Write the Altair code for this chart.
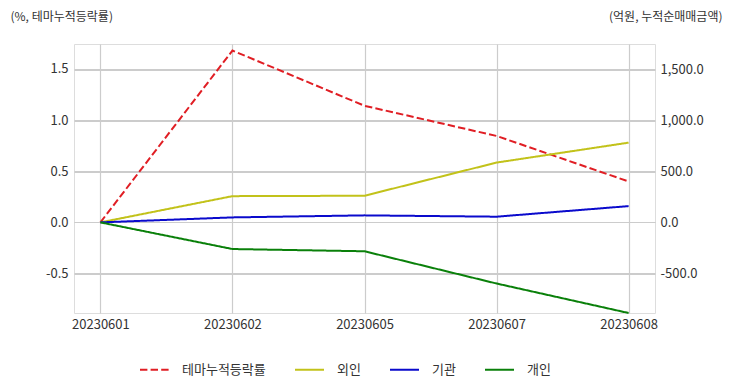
import altair as alt
import pandas as pd

dates = ["20230601", "20230602", "20230605", "20230607", "20230608"]
theme = [0.0, 1.68, 1.14, 0.845, 0.40]          # 테마누적등락률 (%)
foreign = [0.0, 258.0, 262.0, 588.0, 784.0]     # 외인 (억원)
inst = [0.0, 49.0, 69.0, 56.0, 160.0]           # 기관 (억원)
indiv = [0.0, -262.0, -284.0, -601.0, -891.0]   # 개인 (억원)

series_names = ["테마누적등락률", "외인", "기관", "개인"]
colors = ["#e01e24", "#c2c21a", "#0a0acc", "#0a800a"]
dashes = [[7.4, 3.2], [1, 0], [1, 0], [1, 0]]

left_ticks = [-0.5, 0.0, 0.5, 1.0, 1.5]
right_ticks = [-500, 0, 500, 1000, 1500]

rows = []
for d, v in zip(dates, theme):
    rows.append({"date": d, "series": "테마누적등락률", "value": v})
for name, vals in [("외인", foreign), ("기관", inst), ("개인", indiv)]:
    for d, v in zip(dates, vals):
        rows.append({"date": d, "series": name, "value": v})
df = pd.DataFrame(rows)

FONT = "Noto Sans CJK KR"
TXT = "#333333"
GRID = "#cccccc"
MINUS_FIX = "replace(datum.label, '\u2212', '-')"

x_enc = alt.X(
    "date:N",
    sort=dates,
    scale=alt.Scale(type="point", padding=0.2),
    axis=alt.Axis(
        title=None, labelAngle=0, grid=True, gridColor=GRID, gridWidth=1.2,
        domain=False, ticks=False, labelPadding=5, labelFontSize=13,
        labelColor=TXT, labelFont=FONT,
    ),
)

legend_opts = dict(
    title=None, orient="none", direction="horizontal", columns=4,
    legendX=65, legendY=310, symbolType="stroke", symbolSize=841,
    symbolStrokeWidth=2, labelFontSize=13, labelFont=FONT, labelColor=TXT,
    columnPadding=25, labelOffset=12, padding=0,
)

color_enc = alt.Color(
    "series:N",
    scale=alt.Scale(domain=series_names, range=colors),
    legend=alt.Legend(**legend_opts),
)
dash_enc = alt.StrokeDash(
    "series:N",
    scale=alt.Scale(domain=series_names, range=dashes),
    legend=alt.Legend(**legend_opts),
)

base = alt.Chart(df)

left = base.transform_filter(alt.datum.series == "테마누적등락률").mark_line(strokeWidth=2).encode(
    x=x_enc,
    y=alt.Y(
        "value:Q",
        scale=alt.Scale(domain=[-0.886, 1.744], nice=False, zero=False),
        axis=alt.Axis(
            orient="left", values=left_ticks, format=".1f", labelExpr=MINUS_FIX,
            grid=True, gridColor=GRID, gridWidth=1.2, domain=False, ticks=False,
            labelPadding=6, labelFontSize=13, labelColor=TXT, labelFont=FONT,
            title="(%, 테마누적등락률)", titleAngle=0, titleX=-64, titleY=-28,
            titleAlign="left", titleBaseline="middle", titleFontWeight="normal",
            titleFontSize=12, titleColor=TXT, titleFont=FONT,
        ),
    ),
    color=color_enc,
    strokeDash=dash_enc,
)

right = base.transform_filter(alt.datum.series != "테마누적등락률").mark_line(strokeWidth=2).encode(
    x=x_enc,
    y=alt.Y(
        "value:Q",
        scale=alt.Scale(domain=[-891, 1754], nice=False, zero=False),
        axis=alt.Axis(
            orient="right", values=right_ticks, format=",.1f", labelExpr=MINUS_FIX,
            grid=True, gridColor=GRID, gridWidth=1.2, domain=False, ticks=False,
            labelPadding=5, labelFontSize=13, labelColor=TXT, labelFont=FONT,
            title="(억원, 누적순매매금액)", titleAngle=0, titleX=67, titleY=-28,
            titleAlign="right", titleBaseline="middle", titleFontWeight="normal",
            titleFontSize=12, titleColor=TXT, titleFont=FONT,
        ),
    ),
    color=color_enc,
    strokeDash=dash_enc,
)

chart = (
    alt.layer(left, right)
    .resolve_scale(y="independent")
    .properties(
        width=581, height=269,
        autosize=alt.AutoSizeParams(type="none"),
        padding={"left": 66, "top": 36, "right": 69, "bottom": 70},
        background="white",
    )
    .configure_view(stroke="#cccccc", strokeWidth=1.5)
    .configure(font=FONT)
)

chart.save("out.html", embed_options={"renderer": "svg", "actions": False})
